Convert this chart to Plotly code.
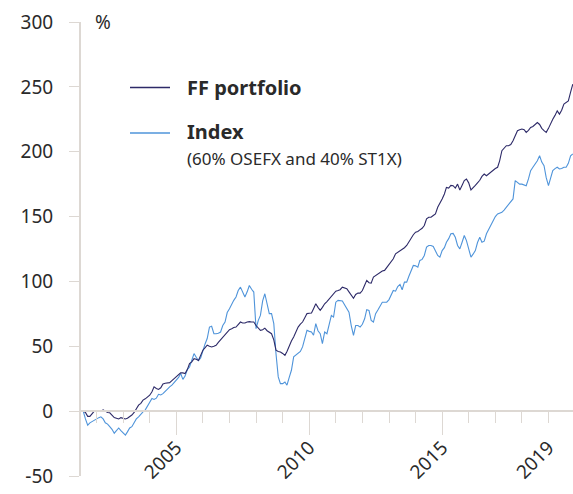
import pandas as pd
import plotly.graph_objects as go

# Monthly observations, June 2001 - December 2019 (cumulative return, %)
dates = pd.date_range("2001-06-01", periods=223, freq="MS")

ff_portfolio = [
    # 2001 Jun-Dec
    0, 0, -1, -4, -4, -2, 0,
    # 2002
    0, 0, 0, 1, 0, -1, -1.3, -3, -5, -5.5, -6, -5,
    # 2003
    -5.5, -6, -5.5, -4.5, -3, -1, 2, 4.6, 6, 8.5, 9.5, 11,
    # 2004
    12.3, 15, 18.7, 17.5, 16.7, 18, 21, 21.5, 22, 22, 23.5, 25,
    # 2005
    26.4, 27.5, 29.5, 29.5, 29, 32, 36.7, 38, 40.5, 40, 39, 43,
    # 2006
    47, 49, 50.8, 50, 49.5, 50, 50.8, 53, 55, 57.2, 59, 61,
    # 2007
    62.8, 63.5, 64.5, 64.8, 66.5, 68.7, 68, 68, 68.7, 69, 68.7, 68.7,
    # 2008
    66, 64, 62.3, 62.8, 64, 62, 61, 59.7, 55, 47, 46, 45.6,
    # 2009
    44.5, 43, 46, 50.8, 54, 57.2, 61, 64.8, 67, 68.7, 72, 75.2,
    # 2010
    75.5, 75.6, 79, 82.8, 80, 77.7, 80, 82.8, 84.5, 86.5, 88.5, 91,
    # 2011
    92.5, 93, 93.6, 95.6, 95, 94.4, 92, 89, 87, 90, 91, 91,
    # 2012
    93, 97, 100.8, 99, 98.7, 103.3, 104.5, 106, 107, 108, 108.5, 111,
    # 2013
    113.5, 116, 117.5, 121.3, 122.5, 123.8, 124.4, 126, 127.7, 130.5, 134.1, 136,
    # 2014
    138, 138.5, 139.7, 141, 143.1, 148.2, 149.5, 149.5, 150.8, 152, 157.2, 160,
    # 2015
    163.6, 167.4, 172.5, 172, 174, 173.8, 172, 175, 170.5, 174, 177.7, 178.9,
    # 2016
    176, 170.5, 172, 174, 176, 178, 181, 182.8, 181.5, 183, 184.1, 186,
    # 2017
    187, 188, 193, 200.8, 203, 204.6, 204.6, 205.5, 208.5, 212, 216.2, 217,
    # 2018
    217.5, 217, 214.9, 216.5, 218.7, 219.5, 221, 222.5, 221, 218, 216.2, 214.9,
    # 2019
    218, 222, 225, 228, 231.5, 229, 232, 236.7, 238, 239.2, 246, 252,
]

index_6040 = [
    # 2001 Jun-Dec
    0, 0, -6, -10.8, -9, -8, -6.5,
    # 2002
    -5.6, -5, -4.4, -6, -9, -10, -12, -14, -17, -15, -13, -15,
    # 2003
    -17, -18.5, -16, -13, -12, -9, -6, -4.4, -2, -0.5, 1, 4,
    # 2004
    7, 9.7, 9, 10, 13, 12.5, 13.5, 15, 17, 18.7, 20, 22,
    # 2005
    23.8, 26, 29, 24.5, 27, 32, 34, 40, 44.4, 41.5, 39, 41,
    # 2006
    47, 52, 56, 64.8, 65.4, 59.7, 59.7, 60, 61, 66, 68.7, 76,
    # 2007
    79, 82.8, 85.4, 88, 93, 95.6, 92, 88, 92, 96.9, 94, 91.8,
    # 2008
    63.6, 70, 73.8, 85, 90.5, 83, 75.2, 75.2, 67.5, 44.4, 26.4, 21.2,
    # 2009
    21.2, 22.5, 20, 26, 31.5, 41.8, 43, 44.4, 46, 49.5, 55.9, 62.3,
    # 2010
    61.5, 61, 58.5, 67.5, 62, 59.7, 52, 61, 59.7, 66, 73.8, 72.5,
    # 2011
    84, 85.4, 85, 84.9, 82, 79, 76.3, 66, 58.5, 66, 66, 64.8,
    # 2012
    67, 71.2, 78.2, 77.7, 70, 68.7, 75.2, 78, 80.8, 84, 84, 84,
    # 2013
    86, 89.2, 93, 92.5, 96, 97.7, 93.6, 99.5, 99.5, 104, 108.5, 112.3,
    # 2014
    112, 111, 116.2, 117, 120, 126.4, 127.7, 127.7, 127, 124, 120, 118.7,
    # 2015
    123.8, 126, 130.2, 133, 136.7, 137, 134, 127.7, 125.1, 130, 135.4, 131.5,
    # 2016
    125, 118.7, 121, 123.8, 130, 134, 130.2, 131, 136.7, 140, 144.3, 147,
    # 2017
    150, 152, 152.5, 153.3, 155, 157.2, 159.8, 162, 163.6, 177.7, 176.4, 175,
    # 2018
    175, 174.5, 173.8, 179, 185.4, 188, 190.5, 193, 196.9, 192, 189.2, 180,
    # 2019
    173.8, 180, 185.4, 187, 188, 186.7, 187, 188, 188, 191, 196.9, 198.2,
]

y_ticks = [-50, 0, 50, 100, 150, 200, 250, 300]
x_label_years = [2005, 2010, 2015, 2019]
x_major_years = [2005, 2010, 2015]
minor_years = list(range(2002, 2020))

series_names = ["FF portfolio", "Index"]
index_note = "(60% OSEFX and 40% ST1X)"

FF_COLOR = "#2d2a68"
IDX_COLOR = "#4f94da"
AXIS_COLOR = "#ddd8d3"
TEXT_COLOR = "#2a2a2a"
FONT = "Noto Sans"

x_range = ["2001-06-01", "2019-12-04"]
zero_pos = 50 / 350  # position of y=0 within the plot area (range -50..300)

FIG_W, FIG_H = 573, 494
M_L, M_R, M_T, M_B = 81, 0, 22, 18
PLOT_W = FIG_W - M_L - M_R
PLOT_H = FIG_H - M_T - M_B

fig = go.Figure()
fig.add_trace(go.Scatter(x=dates, y=index_6040, mode="lines", name=series_names[1],
                         line=dict(color=IDX_COLOR, width=1.1), showlegend=False))
fig.add_trace(go.Scatter(x=dates, y=ff_portfolio, mode="lines", name=series_names[0],
                         line=dict(color=FF_COLOR, width=1.1), showlegend=False))
# helper trace on the overlay axis carrying the long major ticks
fig.add_trace(go.Scatter(x=[None], y=[None], xaxis="x2", showlegend=False, hoverinfo="skip"))

fig.update_layout(
    width=FIG_W, height=FIG_H,
    margin=dict(l=M_L, r=M_R, t=M_T, b=M_B, autoexpand=False),
    plot_bgcolor="white", paper_bgcolor="white",
    font=dict(family=FONT, size=19, color=TEXT_COLOR),
    showlegend=False,
    xaxis=dict(
        type="date", range=x_range, anchor="free", position=zero_pos,
        showgrid=False, zeroline=False,
        showline=True, linecolor=AXIS_COLOR, linewidth=2,
        ticks="outside", ticklen=11, tickwidth=1, tickcolor=AXIS_COLOR,
        tickmode="array",
        tickvals=[f"{y}-01-01" for y in x_label_years],
        ticktext=[str(y) for y in x_label_years],
        tickangle=-45,
        ticklabelstandoff=6,
        tickfont=dict(size=19, color=TEXT_COLOR),
        minor=dict(tickmode="array", tickvals=[f"{y}-01-01" for y in minor_years],
                   ticks="outside", ticklen=11, tickwidth=1, tickcolor=AXIS_COLOR),
    ),
    xaxis2=dict(
        type="date", range=x_range, overlaying="x", anchor="free", position=zero_pos,
        showgrid=False, zeroline=False, showline=False,
        ticks="outside", ticklen=23, tickwidth=1, tickcolor=AXIS_COLOR,
        tickmode="array", tickvals=[f"{y}-01-01" for y in x_major_years],
        showticklabels=False,
    ),
    yaxis=dict(
        range=[-50, 300], showgrid=False, zeroline=False,
        showline=True, linecolor=AXIS_COLOR, linewidth=2,
        ticks="outside", ticklen=10, tickwidth=1, tickcolor=AXIS_COLOR,
        tickmode="array", tickvals=y_ticks, ticktext=[str(v) for v in y_ticks],
        ticklabelstandoff=12,
        tickfont=dict(size=19, color=TEXT_COLOR),
    ),
)

# helpers: window pixel -> paper fraction
def px_x(px):
    return (px - M_L) / PLOT_W

def px_y(py):
    return (FIG_H - M_B - py) / PLOT_H

# legend samples
fig.add_shape(type="line", xref="paper", yref="paper", x0=px_x(130), x1=px_x(170),
              y0=px_y(87.5), y1=px_y(87.5), line=dict(color=FF_COLOR, width=1.3))
fig.add_shape(type="line", xref="paper", yref="paper", x0=px_x(130), x1=px_x(170),
              y0=px_y(133), y1=px_y(133), line=dict(color=IDX_COLOR, width=1.3))

fig.add_annotation(xref="paper", yref="paper", x=px_x(185), y=px_y(87), xanchor="left",
                   yanchor="middle", showarrow=False, text=f"<b>{series_names[0]}</b>",
                   font=dict(size=20, color=TEXT_COLOR))
fig.add_annotation(xref="paper", yref="paper", x=px_x(185), y=px_y(131), xanchor="left",
                   yanchor="middle", showarrow=False, text=f"<b>{series_names[1]}</b>",
                   font=dict(size=20, color=TEXT_COLOR))
fig.add_annotation(xref="paper", yref="paper", x=px_x(185), y=px_y(158), xanchor="left",
                   yanchor="middle", showarrow=False, text=index_note,
                   font=dict(size=17, color=TEXT_COLOR))
fig.add_annotation(xref="paper", yref="paper", x=px_x(93), y=px_y(22), xanchor="left",
                   yanchor="middle", showarrow=False, text="%",
                   font=dict(size=19, color=TEXT_COLOR))

# remove the default page margin so the 573x494 figure fills the window exactly
fig.write_html("out.html",
               config={"displayModeBar": False},
               post_script="document.body.style.margin='0';document.body.style.overflow='hidden';")
